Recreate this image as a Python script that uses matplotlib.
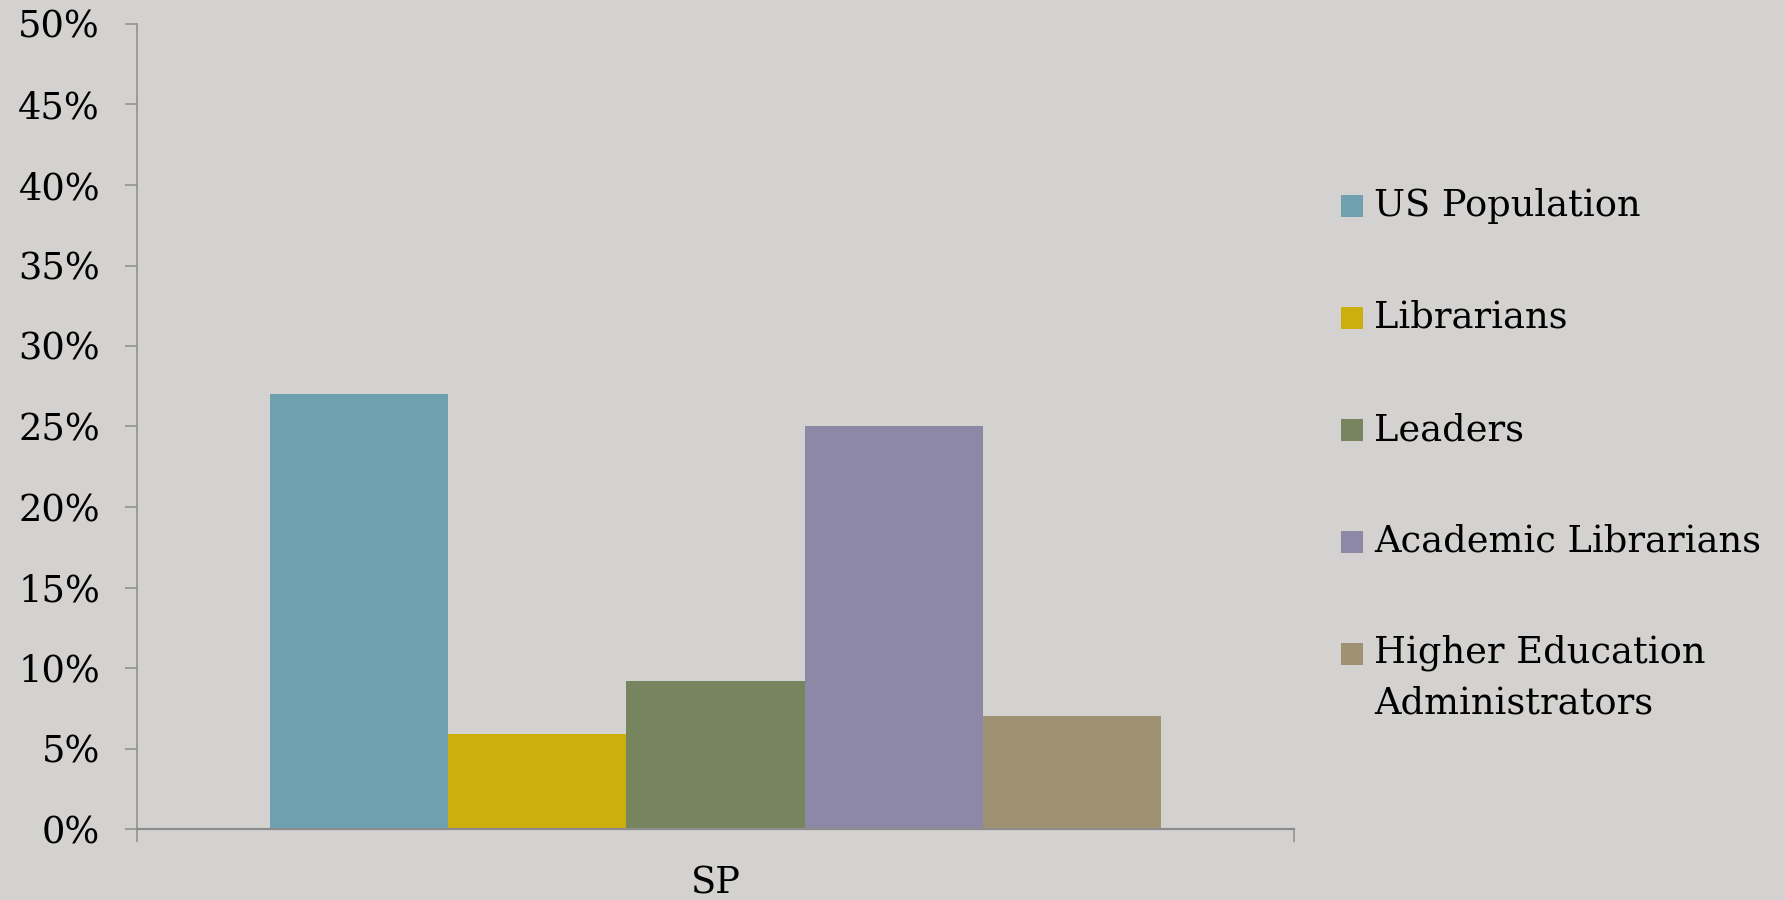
import matplotlib
matplotlib.use("Agg")
import matplotlib.pyplot as plt
from matplotlib.patches import Rectangle

# ---- data ----
category = ["SP"]
series_labels = ["US Population", "Librarians", "Leaders",
                 "Academic Librarians", "Higher Education\nAdministrators"]
series_values = [27.0, 5.9, 9.2, 25.0, 7.0]   # percent
series_colors = ["#6FA0B0", "#CCAE0C", "#77855F", "#8C88A5", "#9F9272"]
y_ticks = [0, 5, 10, 15, 20, 25, 30, 35, 40, 45, 50]
y_tick_labels = [f"{v}%" for v in y_ticks]

BG = "#D3D2D0"
AX_COL = "#8C8C8C"
FONT = "DejaVu Serif"
FS = 26.5

W, H = 1785, 900
fig = plt.figure(figsize=(W / 100, H / 100), dpi=100, facecolor=BG)
ax = fig.add_axes([137 / W, 1 - 829 / H, (1294 - 137) / W, (829 - 24) / H])
ax.set_facecolor(BG)

n = len(series_values)
group_w = 0.77
bw = group_w / n
for i, (lab, val, col) in enumerate(zip(series_labels, series_values, series_colors)):
    x = -group_w / 2 + bw * (i + 0.5)
    ax.bar(x, val, width=bw, color=col, edgecolor="none", label=lab, zorder=2)

ax.set_xlim(-0.5, len(category) - 0.5)
ax.set_ylim(0, 50)

ax.set_yticks(y_ticks)
ax.set_yticklabels(y_tick_labels, fontfamily=FONT, fontsize=FS, color="black")
ax.tick_params(axis="y", direction="out", length=12 * 0.72, width=1.1, color=AX_COL, pad=18)

# category boundary ticks (major) and category label (minor)
ax.set_xticks([-0.5, len(category) - 0.5])
ax.set_xticklabels(["", ""])
ax.tick_params(axis="x", which="major", direction="out", length=13 * 0.72, width=1.1, color=AX_COL)
ax.set_xticks(range(len(category)), minor=True)
ax.set_xticklabels(category, minor=True, fontfamily=FONT, fontsize=FS, color="black")
ax.tick_params(axis="x", which="minor", length=0, pad=26)

for s in ["top", "right"]:
    ax.spines[s].set_visible(False)
ax.spines["left"].set_color(AX_COL)
ax.spines["left"].set_linewidth(1.1)
ax.spines["bottom"].set_color(AX_COL)
ax.spines["bottom"].set_linewidth(1.6)

# ---- legend (manual, figure pixel layout) ----
leg_sq_x = 1341
leg_sq = 22
leg_txt_x = 1374
leg_y0 = 206
leg_step = 112
line_h = 48
for i, (lab, col) in enumerate(zip(series_labels, series_colors)):
    yc = leg_y0 + i * leg_step
    fig.patches.append(Rectangle((leg_sq_x / W, 1 - (yc + leg_sq / 2) / H), leg_sq / W, leg_sq / H,
                                 transform=fig.transFigure, facecolor=col, edgecolor="none"))
    nl = lab.count("\n") + 1
    ytc = yc + (nl - 1) * line_h / 2
    fig.text(leg_txt_x / W, 1 - ytc / H, lab, ha="left", va="center", fontfamily=FONT,
             fontsize=FS, color="black", linespacing=1.5)

fig.savefig("out.png", dpi=100, facecolor=BG)
